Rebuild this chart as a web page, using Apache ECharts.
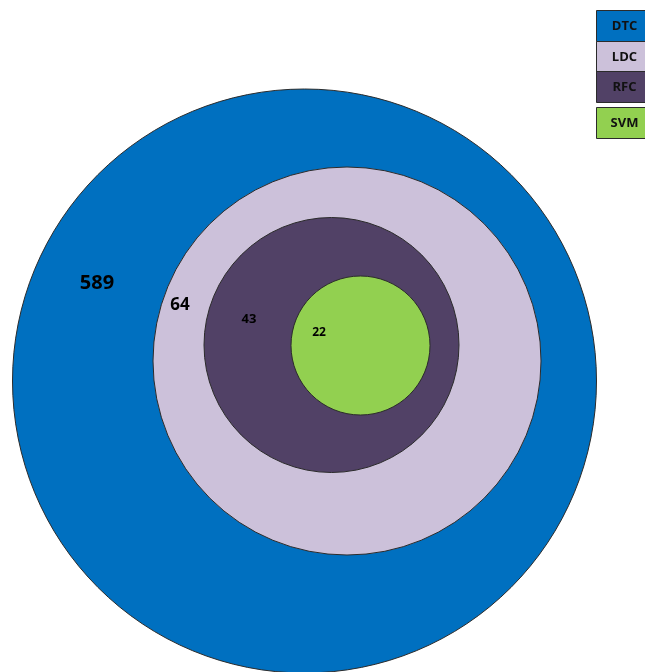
<!DOCTYPE html>
<html>
<head>
<meta charset="utf-8">
<script src="https://cdn.jsdelivr.net/npm/echarts@6/dist/echarts.min.js"></script>
<style>
  html, body { margin: 0; padding: 0; background: #fff; }
  #chart { width: 645px; height: 672px; }
</style>
</head>
<body>
<div id="chart"></div>
<script>
// sets, outermost first
const setNames = ["DTC", "LDC", "RFC", "SVM"];
const setCounts = [589, 64, 43, 22];
const setColors = ["#0070c0", "#ccc1da", "#514166", "#92d050"];

// circle geometry (centre x, centre y, radius) in a 645 x 672 plane
const circleX = [304.5, 347, 331.5, 360.5];
const circleY = [381, 361, 345, 345.5];
const circleR = [292, 194, 127.5, 69.5];
// where each count label sits
const labelX = [97, 180, 249, 319];
const labelY = [283, 305, 319, 333];
const labelSize = [20, 17, 13, 12];

const chart = echarts.init(document.getElementById("chart"));

const circleData = setNames.map((n, i) => [circleX[i], circleY[i], circleR[i], i]);
const labelData = setNames.map((n, i) => [labelX[i], labelY[i], setCounts[i], i]);

const option = {
  animation: false,
  grid: { left: 0, right: 0, top: 0, bottom: 0 },
  xAxis: { type: "value", min: 0, max: 645, show: false },
  yAxis: { type: "value", min: 0, max: 672, inverse: true, show: false },
  series: [
    {
      type: "custom",
      data: circleData,
      encode: { x: 0, y: 1 },
      renderItem: function (params, api) {
        const c = api.coord([api.value(0), api.value(1)]);
        const r = api.size([api.value(2), 0])[0];
        const i = api.value(3);
        return {
          type: "circle",
          shape: { cx: c[0], cy: c[1], r: r },
          style: { fill: setColors[i], stroke: "#2b2b2b", lineWidth: 1 },
        };
      },
    },
    {
      type: "custom",
      data: labelData,
      encode: { x: 0, y: 1 },
      z: 5,
      renderItem: function (params, api) {
        const c = api.coord([api.value(0), api.value(1)]);
        const i = api.value(3);
        return {
          type: "text",
          x: c[0],
          y: c[1],
          style: {
            text: String(api.value(2)),
            fill: "#000",
            fontSize: labelSize[i],
            fontWeight: "bold",
            fontFamily: "'Open Sans', sans-serif",
            align: "center",
            verticalAlign: "middle",
          },
        };
      },
    },
  ],
  // legend boxes on the right edge
  graphic: setNames.map((n, i) => {
    const top = [10, 41, 71, 107][i];
    return {
      type: "group",
      left: 596,
      top: top,
      children: [
        {
          type: "rect",
          shape: { x: 0, y: 0, width: 52, height: 31 },
          style: { fill: setColors[i], stroke: "#2b2b2b", lineWidth: 1 },
        },
        {
          type: "text",
          x: 28,
          y: 16,
          style: {
            text: n,
            fill: "#111",
            fontSize: 13,
            fontWeight: "bold",
            fontFamily: "'Open Sans', sans-serif",
            align: "center",
            verticalAlign: "middle",
          },
        },
      ],
    };
  }),
};

chart.setOption(option);
window.onresize = chart.resize;
</script>
</body>
</html>
